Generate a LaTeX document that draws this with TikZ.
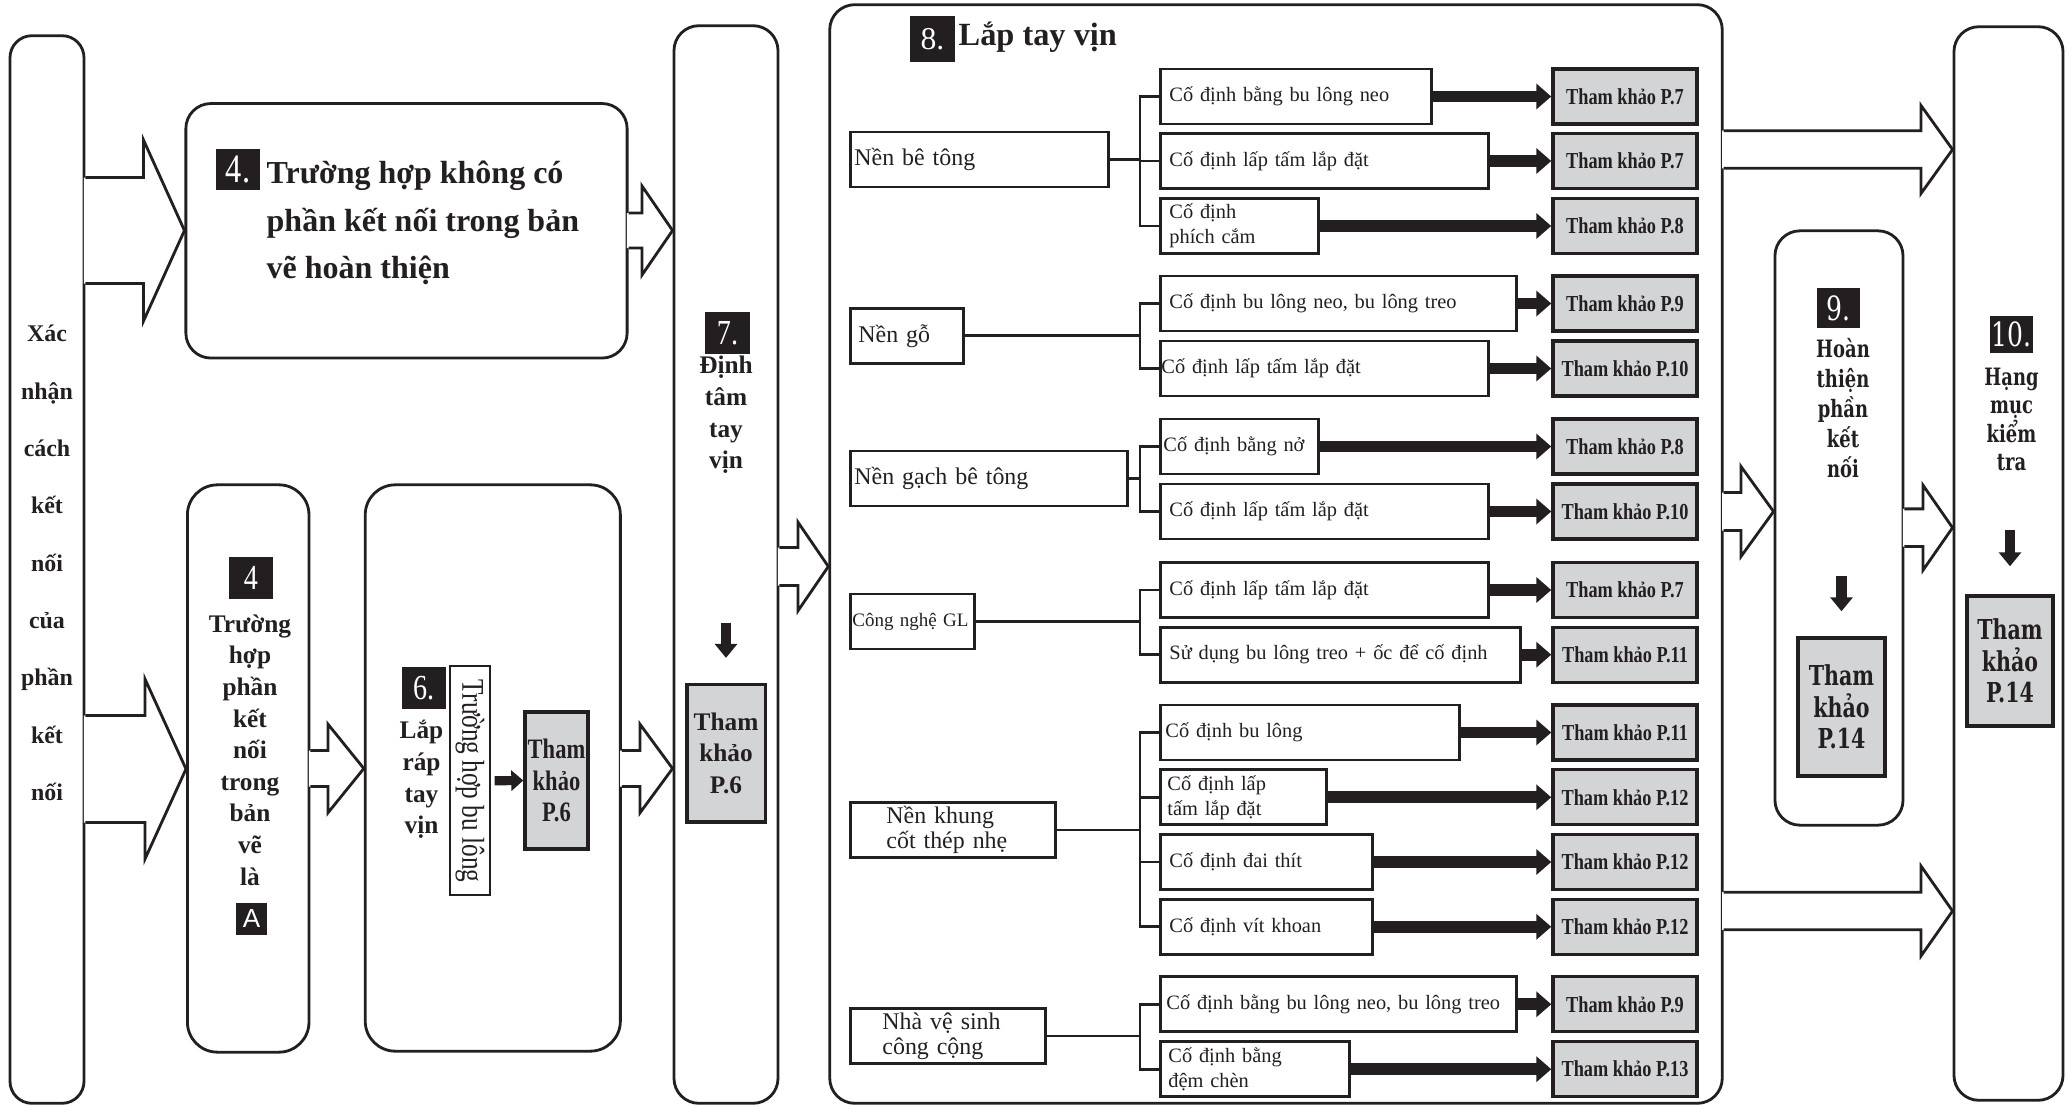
\documentclass[tikz,border=0pt]{standalone}
\usepackage{fontspec}
\setmainfont{Liberation Serif}
\newfontfamily\narrowfont{Liberation Serif}[FakeStretch=0.8]
\newfontfamily\wideserif{DejaVu Serif}[FakeStretch=0.75]
\newfontfamily\sansfont{Liberation Sans}
\usetikzlibrary{arrows.meta,positioning,calc}
\definecolor{refgray}{RGB}{211,212,214}
\definecolor{ink}{RGB}{35,31,32}
\newcommand{\blockarrow}[6]{%
  \fill[white] ($(#1.east |- 0,{#3-#4})+(-1.6,0)$) -- (#6,{#3-#4}) -- (#6,{#3-#5})
    -- (#2.west |- 0,#3) -- (#6,{#3+#5}) -- (#6,{#3+#4})
    -- ($(#1.east |- 0,{#3+#4})+(-1.6,0)$) -- cycle;
  \draw[line width=0.8pt] (#1.east |- 0,{#3-#4}) -- (#6,{#3-#4}) -- (#6,{#3-#5})
    -- (#2.west |- 0,#3) -- (#6,{#3+#5}) -- (#6,{#3+#4}) -- (#1.east |- 0,{#3+#4});
}

\begin{document}
\begin{tikzpicture}[x=0.01cm,y=-0.01cm,color=ink,
  bigbox/.style={draw,line width=0.8pt,rounded corners=0.25cm,inner sep=0pt},
  numb/.style={fill=ink,text=white,inner sep=0pt,minimum width=0.44cm,minimum height=0.41cm,
    font=\narrowfont\fontsize{10}{10}\selectfont},
  txt/.style={inner sep=0pt,align=center},
  col/.style={txt,font=\bfseries\fontsize{7.2}{9}\selectfont},
  grp/.style={draw,line width=0.8pt,minimum height=0.55cm,inner ysep=0pt,inner xsep=0.04cm,
    anchor=west,align=left,font=\fontsize{6.8}{7.1}\selectfont},
  sub/.style={draw,line width=0.8pt,minimum height=0.55cm,inner ysep=0pt,inner xsep=0.09cm,
    anchor=west,align=left,font=\fontsize{5.8}{7.1}\selectfont},
  ref/.style={draw,line width=0.95pt,fill=refgray,minimum width=1.44cm,minimum height=0.55cm,
    inner sep=0pt,align=center,font=\narrowfont\bfseries\fontsize{6.5}{7}\selectfont},
  fat/.style={line width=3.4pt,-{Triangle[length=1.5mm,width=2.5mm]}},
  downarr/.style={line width=3pt,-{Triangle[length=1.4mm,width=2.2mm]}}]
\useasboundingbox (0,0) rectangle (2071,1106);

% outer boxes
\node[bigbox,rounded corners=0.22cm,minimum width=0.74cm,minimum height=10.67cm] (chk) at (47,569.5) {};
\node[bigbox,minimum width=4.41cm,minimum height=2.544cm] (nodraw) at (406.5,230.8) {};
\node[bigbox,rounded corners=0.3cm,minimum width=1.215cm,minimum height=5.67cm] (drawA) at (248.2,768.5) {};
\node[bigbox,rounded corners=0.3cm,minimum width=2.55cm,minimum height=5.66cm] (assy) at (492.8,768) {};
\node[bigbox,minimum width=1.04cm,minimum height=10.77cm] (ctr) at (726,564.5) {};
\node[bigbox,minimum width=8.92cm,minimum height=10.98cm] (mount) at (1276,554) {};
\node[bigbox,minimum width=1.28cm,minimum height=5.94cm] (finish) at (1839,528) {};
\node[bigbox,minimum width=1.09cm,minimum height=10.73cm] (insp) at (2008.5,563.5) {};

\blockarrow{chk}{nodraw}{230.5}{53}{90.5}{143.5}
\blockarrow{chk}{drawA}{769}{53.5}{90}{145}
\blockarrow{nodraw}{ctr}{230.5}{17.5}{44.5}{642}
\blockarrow{drawA}{assy}{768.5}{18}{44.3}{328}
\blockarrow{assy}{ctr}{768.5}{18}{44.3}{640}
\blockarrow{ctr}{mount}{566.5}{19}{44.3}{798}
\blockarrow{mount}{insp}{149.5}{18.8}{44}{1921}
\blockarrow{mount}{finish}{511.5}{19}{45}{1741}
\blockarrow{finish}{insp}{527.7}{18.8}{42.5}{1923}
\blockarrow{mount}{insp}{911}{18.8}{45}{1921}

% left column
\node[txt,font=\bfseries\fontsize{6.8}{16.3}\selectfont] (chktxt) at (47,563)
  {Xác\\nhận\\cách\\kết\\nối\\của\\phần\\kết\\nối};
\node[numb,font=\narrowfont\fontsize{11.5}{12}\selectfont] (n4a) at (238,169.5) {4.};
\node[txt,anchor=west,align=left,font=\bfseries\fontsize{9.1}{13.5}\selectfont] (nodrawtxt) at (266,223)
  {Trường hợp không có\\phần kết nối trong bản\\vẽ hoàn thiện};
\node[numb] (n4b) at (251,578) {4};
\node[col] (drawAtxt) at (250,750) {Trường\\hợp\\phần\\kết\\nối\\trong\\bản\\vẽ\\là};
\node[fill=ink,text=white,inner sep=0pt,minimum size=0.31cm,font=\sansfont\fontsize{7.4}{8}\selectfont]
  (amark) at (251.5,919) {A};
\node[numb] (n6) at (423.6,688) {6.};
\node[col] (assytxt) at (421.5,779.5) {Lắp\\ráp\\tay\\vịn};
\node[draw,line width=0.6pt,rotate=-90,minimum width=2.29cm,minimum height=0.40cm,inner sep=0pt,
  font=\narrowfont\fontsize{9}{9}\selectfont] (bolt) at (470,780.8) {Trường hợp bu lông};
\node[ref,minimum width=0.63cm,minimum height=1.37cm,font=\narrowfont\bfseries\fontsize{8}{9}\selectfont]
  (refD) at (556.5,780.5) {Tham\\khảo\\P.6};
\draw[line width=2.6pt,-{Triangle[length=1.2mm,width=2mm]}] ([xshift=1pt]bolt.north) -- (refD.west);
\node[numb] (n7) at (727.5,333) {7.};
\node[col] (ctrtxt) at (726,415) {Định\\tâm\\tay\\vịn};
\node[ref,minimum width=0.783cm,minimum height=1.372cm,font=\bfseries\fontsize{7.2}{9}\selectfont]
  (refE) at (726,753.2) {Tham\\khảo\\P.6};
\draw[downarr] ([yshift=0.6cm]refE.north) -- ([yshift=0.25cm]refE.north);

% box 8
\node[numb,minimum width=0.45cm,minimum height=0.46cm,font=\fontsize{9}{9}\selectfont] (n8) at (932.5,39) {8.};
\node[inner sep=0pt,anchor=base west,font=\bfseries\fontsize{9.2}{10}\selectfont] (ttl) at (958,45) {Lắp tay vịn};
\coordinate (bx) at (1140,0);
\node[grp,text width=2.50cm] (g1) at (849,159.5) {Nền bê tông};
\node[grp,inner xsep=0.08cm,text width=0.97cm] (g2) at (849,335.8) {Nền gỗ};
\node[grp,text width=2.69cm] (g3) at (849,478.5) {Nền gạch bê tông};
\node[grp,inner xsep=0.02cm,text width=1.20cm,font=\fontsize{5.4}{6}\selectfont] (g4) at (849,621.5) {Công nghệ GL};
\node[grp,inner xsep=0.36cm,text width=1.33cm] (g5) at (849,830) {Nền khung\\cốt thép nhẹ};
\node[grp,inner xsep=0.32cm,text width=1.31cm] (g6) at (849,1036) {Nhà vệ sinh\\công cộng};

\node[sub,text width=2.53cm] (s11) at (1159,96.5) {Cố định bằng bu lông neo};
\node[sub,text width=3.10cm] (s12) at (1159,161) {Cố định lấp tấm lắp đặt};
\node[sub,text width=1.40cm] (s13) at (1159,226) {Cố định\\phích cắm};
\node[sub,text width=3.38cm] (s21) at (1159,303.5) {Cố định bu lông neo, bu lông treo};
\node[sub,inner xsep=0.01cm,text width=3.26cm] (s22) at (1159,368.5) {Cố định lấp tấm lắp đặt};
\node[sub,inner xsep=0.03cm,text width=1.52cm] (s31) at (1159,446.5) {Cố định bằng nở};
\node[sub,text width=3.10cm] (s32) at (1159,511.5) {Cố định lấp tấm lắp đặt};
\node[sub,text width=3.10cm] (s41) at (1159,590) {Cố định lấp tấm lắp đặt};
\node[sub,text width=3.42cm] (s42) at (1159,654.7) {Sử dụng bu lông treo + ốc để cố định};
\node[sub,inner xsep=0.05cm,text width=2.89cm] (s51) at (1159,732.5) {Cố định bu lông};
\node[sub,inner xsep=0.07cm,text width=1.52cm] (s52) at (1159,797.3) {Cố định lấp\\tấm lắp đặt};
\node[sub,text width=1.94cm] (s53) at (1159,862) {Cố định đai thít};
\node[sub,text width=1.94cm] (s54) at (1159,926.8) {Cố định vít khoan};
\node[sub,inner xsep=0.06cm,text width=3.44cm] (s61) at (1159,1004.3) {Cố định bằng bu lông neo, bu lông treo};
\node[sub,inner xsep=0.08cm,text width=1.73cm] (s62) at (1159,1069.2) {Cố định bằng\\đệm chèn};

\node[ref] (r11) at (1625,96.5) {Tham khảo P.7};
\node[ref] (r12) at (1625,161) {Tham khảo P.7};
\node[ref] (r13) at (1625,226) {Tham khảo P.8};
\node[ref] (r21) at (1625,303.5) {Tham khảo P.9};
\node[ref] (r22) at (1625,368.5) {Tham khảo P.10};
\node[ref] (r31) at (1625,446.5) {Tham khảo P.8};
\node[ref] (r32) at (1625,511.5) {Tham khảo P.10};
\node[ref] (r41) at (1625,590) {Tham khảo P.7};
\node[ref] (r42) at (1625,654.7) {Tham khảo P.11};
\node[ref] (r51) at (1625,732.5) {Tham khảo P.11};
\node[ref] (r52) at (1625,797.3) {Tham khảo P.12};
\node[ref] (r53) at (1625,862) {Tham khảo P.12};
\node[ref] (r54) at (1625,926.8) {Tham khảo P.12};
\node[ref] (r61) at (1625,1004.3) {Tham khảo P.9};
\node[ref] (r62) at (1625,1069.2) {Tham khảo P.13};

\foreach \g/\n in {g1/11,g1/12,g1/13,g2/21,g2/22,g3/31,g3/32,g4/41,g4/42,
                   g5/51,g5/52,g5/53,g5/54,g6/61,g6/62} {
  \draw[line width=0.8pt] (\g.east) -| (bx |- s\n.west) -- (s\n.west);
  \draw[fat] (s\n.east) -- (r\n.west);
}

% boxes 9 and 10
\node[numb,minimum width=0.43cm,minimum height=0.40cm,font=\wideserif\fontsize{9.5}{10}\selectfont] (n9) at (1838.5,308) {9.};
\node[txt,font=\wideserif\bfseries\fontsize{6.8}{8.5}\selectfont] (fintxt) at (1843,408) {Hoàn\\thiện\\phần\\kết\\nối};
\node[ref,minimum width=0.87cm,minimum height=1.38cm,font=\wideserif\bfseries\fontsize{7.8}{9}\selectfont]
  (refG) at (1841.5,707) {Tham\\khảo\\P.14};
\draw[downarr] ([yshift=0.6cm]refG.north) -- ([yshift=0.25cm]refG.north);
\node[numb,minimum width=0.43cm,minimum height=0.37cm,font=\wideserif\fontsize{9.5}{10}\selectfont] (n10) at (2011.5,334.5) {10.};
\node[txt,font=\wideserif\bfseries\fontsize{6.8}{8}\selectfont] (insptxt) at (2011.5,419.5) {Hạng\\mục\\kiểm\\tra};
\node[ref,minimum width=0.86cm,minimum height=1.30cm,font=\wideserif\bfseries\fontsize{7.8}{9}\selectfont]
  (refH) at (2010,661) {Tham\\khảo\\P.14};
\draw[downarr] ([yshift=0.64cm]refH.north) -- ([yshift=0.28cm]refH.north);
\end{tikzpicture}
\end{document}
